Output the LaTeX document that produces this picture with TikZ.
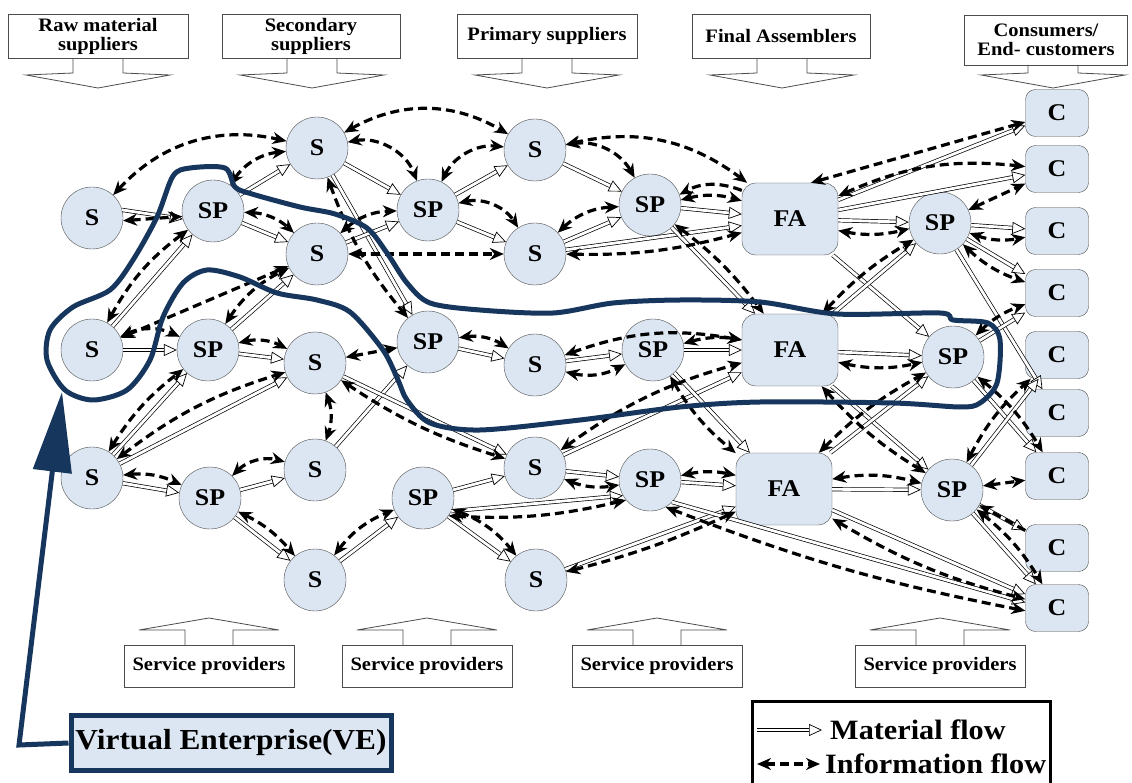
\documentclass[tikz,border=0pt]{standalone}
\usepackage{fontspec}
\setmainfont{Liberation Serif}[FakeStretch=1.08]
\usetikzlibrary{arrows.meta,positioning}

\definecolor{nodeblue}{RGB}{220,230,242}
\definecolor{venavy}{RGB}{23,54,93}

\tikzset{
  firm/.style={circle, draw=black!70, fill=nodeblue, minimum size=62pt, inner sep=0pt,
    font=\bfseries\fontsize{24}{24}\selectfont},
  assembler/.style={rectangle, rounded corners=14pt, draw=black!70, fill=nodeblue,
    minimum width=96pt, minimum height=72pt, font=\bfseries\fontsize{24}{24}\selectfont},
  customer/.style={rectangle, rounded corners=10pt, draw=black!70, fill=nodeblue,
    minimum width=63pt, minimum height=47pt, font=\bfseries\fontsize{24}{24}\selectfont},
  stagebox/.style={draw=black!70, line width=0.8pt, fill=white, align=center, inner sep=1pt,
    font=\bfseries\fontsize{19}{19}\selectfont},
  stagearrow/.style={draw=black!70, line width=0.8pt},
  mat/.style={double=white, double distance=2.8pt, line width=0.7pt,
    -{Triangle[open, fill=white, length=13pt, width=12pt, line width=0.7pt]}},
  info/.style={line width=3.2pt, dash pattern=on 9pt off 5pt,
    {Stealth[length=14pt, width=12pt]}-{Stealth[length=14pt, width=12pt]}},
  infoone/.style={line width=3.2pt, dash pattern=on 9pt off 5pt, -{Stealth[length=14pt, width=12pt]}},
  veline/.style={draw=venavy, line width=5pt, line join=round},
  vebox/.style={draw=venavy, line width=5pt, fill=nodeblue, minimum width=320pt, minimum height=55pt,
    font=\bfseries\fontsize{29}{29}\selectfont},
  legendtext/.style={anchor=west, inner sep=0pt, font=\bfseries\fontsize{28}{28}\selectfont},
}

\begin{document}
\begin{tikzpicture}[x=1pt, y=-1pt]
  \useasboundingbox (0,0) rectangle (1132,783);

  % stages
  \node[stagebox, minimum width=180pt, minimum height=44pt] (raw) at (98,36) {Raw material\\suppliers};
  \node[stagebox, minimum width=178pt, minimum height=44pt] (secondary) at (311,36) {Secondary\\suppliers};
  \node[stagebox, minimum width=180pt, minimum height=44pt] (primary) at (547,36) {Primary suppliers};
  \node[stagebox, minimum width=178pt, minimum height=44pt] (final) at (781,36) {Final Assemblers};
  \node[stagebox, minimum width=163pt, minimum height=50pt] (consumer) at (1046,40) {Consumers/\\End- customers};
  \foreach \cx/\top in {98/58, 312/58, 547/58, 782/58, 1053/65}
    \draw[stagearrow] (\cx-25,\top) -- (\cx-25,73) -- (\cx-72,75) -- (\cx,88) -- (\cx+72,75) -- (\cx+25,73) -- (\cx+25,\top);

  \foreach \cx [count=\i] in {209,427,657,940} {
    \node[stagebox, minimum width=170pt, minimum height=42pt] (service\i) at (\cx,666) {Service providers};
    \draw[stagearrow] (\cx-24,645) -- (\cx-24,630) -- (\cx-70,630) -- (\cx,618) -- (\cx+70,630) -- (\cx+24,630) -- (\cx+24,645);
  }

  % firms
  \node[firm] (s11) at (92,218) {S};
  \node[firm] (s12) at (92,350) {S};
  \node[firm] (s13) at (92,478) {S};
  \node[firm] (sp21) at (213,211) {SP};
  \node[firm] (sp22) at (208,350) {SP};
  \node[firm] (sp23) at (210,498) {SP};
  \node[firm] (s31) at (317,148) {S};
  \node[firm] (s32) at (317,254) {S};
  \node[firm] (s33) at (315,363) {S};
  \node[firm] (s34) at (315,470) {S};
  \node[firm] (s35) at (315,580) {S};
  \node[firm] (sp41) at (428,210) {SP};
  \node[firm] (sp42) at (428,342) {SP};
  \node[firm] (sp43) at (423,498) {SP};
  \node[firm] (s51) at (535,150) {S};
  \node[firm] (s52) at (535,254) {S};
  \node[firm] (s53) at (535,365) {S};
  \node[firm] (s54) at (535,468) {S};
  \node[firm] (s55) at (536,580) {S};
  \node[firm] (sp61) at (650,205) {SP};
  \node[firm] (sp62) at (653,350) {SP};
  \node[firm] (sp63) at (650,480) {SP};
  \node[assembler] (fa1) at (790,219) {FA};
  \node[assembler] (fa2) at (790,350) {FA};
  \node[assembler] (fa3) at (784,489) {FA};
  \node[firm] (sp71) at (940,223) {SP};
  \node[firm] (sp72) at (953,357) {SP};
  \node[firm] (sp73) at (952,490) {SP};
  \foreach \cy [count=\i] in {113,169,231,293,355,413,476,548,608}
    \node[customer] (c\i) at (1057,\cy) {C};

  % material flow
  \foreach \p/\q in {sp21/s31, sp21/s32, s12/sp21, s12/sp22, sp22/s32, sp22/s33, s13/sp22,
      s13/s33, s13/sp23, sp23/s34, sp23/s35, s35/sp43, s34/sp42, s31/sp41, s31/sp42, s32/sp41,
      sp41/s51, sp41/s52, s51/sp61, s52/sp61, s52/fa1, sp61/fa1, sp61/fa2, s33/s54, sp42/s53,
      s53/sp62, sp62/fa2, s54/sp63, sp43/s54, sp43/s55, s54/fa2, s55/fa3, sp63/fa3, sp62/fa3,
      fa1/c1, fa1/c2, fa1/sp71, fa1/sp72, fa2/sp71, fa2/sp72, fa2/sp73, fa3/sp72, fa3/sp73, fa3/c9,
      sp71/c3, sp71/c4, sp71/c6, sp72/c4, sp72/c7, sp73/c5, sp73/c8, sp73/c9}
    \draw[mat] (\p) -- (\q);
  \draw[mat] (s11.15) -- (sp21.195);
  \draw[mat] (sp43.-25) -- (sp63.-150);
  \draw[mat] (sp63.-45) -- (c9.170);

  % information flow
  \foreach \p/\q/\r in {s11/s31/30, sp21/s31/25, sp21/s32/20, s12/sp21/12, s12/s32/0,
      sp22/s32/15, s12/sp22/25, sp22/s33/20, s13/sp22/10, s13/s33/10, s13/sp23/15, sp23/s34/30,
      s33/s34/20, sp23/s35/12, s35/sp43/15, sp43/s55/15, s32/s52/0, s32/sp41/20, s31/sp41/40,
      s31/s51/30, sp41/s51/35, sp41/s52/35, s51/sp61/35, s51/fa1/25, sp61/fa1/15, s52/sp61/20,
      s52/fa1/-8, sp61/fa2/8, s53/fa2/15, sp42/s53/20, s33/sp42/0, s31/sp42/-10, s53/sp62/-20,
      sp62/fa2/12, s33/s54/-8, s54/sp63/-15, s55/fa3/-5, s54/fa2/10, sp62/fa3/-10, sp63/fa3/12,
      fa3/c9/-8, sp73/c9/10, fa3/sp72/8, fa2/sp73/-8, fa2/sp71/8, fa2/sp72/-12, fa3/sp73/12,
      fa1/sp71/-12, fa1/c2/15, sp71/c2/0, sp71/c3/-15, sp71/c4/-12, sp72/c4/12, sp72/c7/10,
      sp73/c5/10, sp73/c7/0}
    \draw[info] (\p) to[bend left=\r] (\q);
  \draw[info] (s11.-5) -- (sp21.-170);
  \draw[info] (c1) -- (fa1.60);
  \draw[info] (sp43.-35) to[bend right=8] (sp63.-140);
  \draw[info] (sp63.-60) to[bend right=5] (c9.185);
  \draw[infoone] (fa1) to[bend right=25] (sp61);
  \draw[infoone] (c8) -- (sp73);

  % virtual enterprise
  \draw[veline] plot[smooth cycle, tension=0.5] coordinates {
    (47,360) (50,330) (73,307) (110,290) (133,260) (157,217) (173,176) (190,168) (225,168)
    (235,187) (252,194) (300,207) (335,214) (367,228) (387,253) (407,283) (430,303) (480,310)
    (553,313) (613,303) (680,300) (760,302) (837,314) (940,313) (953,320) (988,323) (1000,340)
    (997,383) (980,403) (960,407) (893,403) (760,402) (680,407) (580,420) (480,430) (430,423)
    (407,400) (398,380) (383,350) (350,312) (317,300) (277,293) (240,277) (207,270) (183,283)
    (163,317) (150,360) (127,390) (93,400) (65,390)};
  \node[vebox] (ve) at (231,743) {Virtual Enterprise(VE)};
  \coordinate (vecorner) at (19,745);
  \coordinate (vetip) at (62,392);
  \draw[draw=venavy, line width=5pt, line join=miter,
    -{Triangle[length=80pt, width=38pt]}] (ve.west) -- (vecorner) -- (vetip);

  % legend
  \draw[line width=3pt] (752,701) rectangle (1050,800);
  \coordinate (matfrom) at (757,730);
  \coordinate (matto) at (822,730);
  \draw[mat] (matfrom) -- (matto);
  \node[legendtext] (matlabel) at (830,730) {Material flow};
  \coordinate (infofrom) at (757,764);
  \coordinate (infoto) at (820,764);
  \draw[info] (infofrom) -- (infoto);
  \node[legendtext] (infolabel) at (825,764) {Information flow};
\end{tikzpicture}
\end{document}
